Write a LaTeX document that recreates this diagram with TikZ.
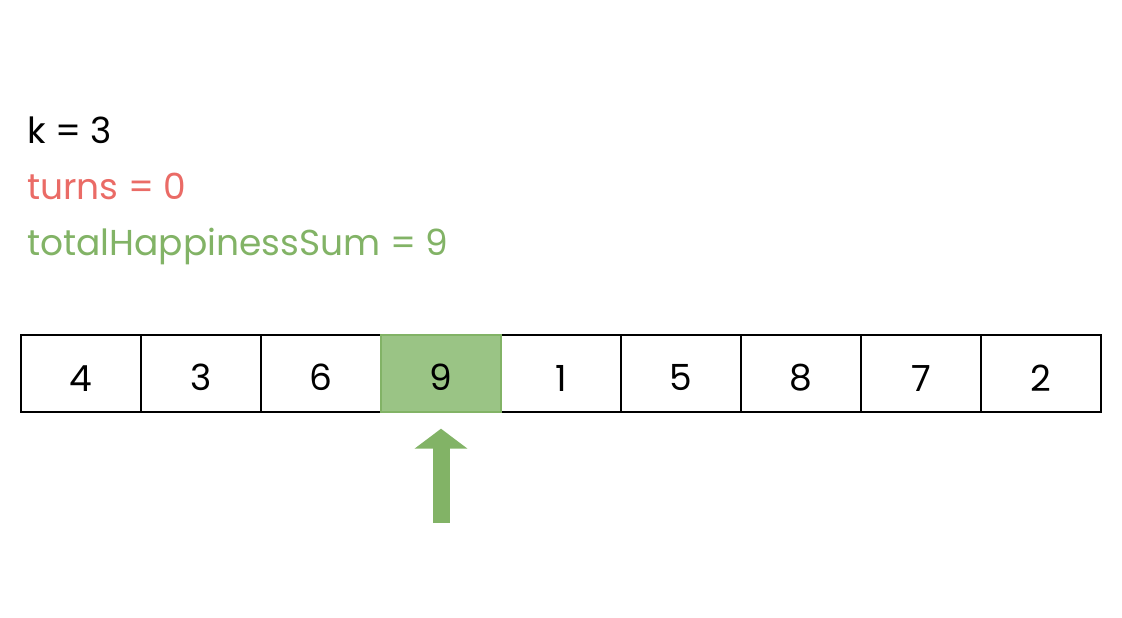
\documentclass[tikz,border=0pt]{standalone}
\usepackage{fontspec}
\setmainfont{Poppins}
\usetikzlibrary{arrows.meta}
\definecolor{redtxt}{HTML}{EA6B66}
\definecolor{greentxt}{HTML}{82B366}
\definecolor{greenfill}{HTML}{9AC485}
\begin{document}
\begin{tikzpicture}[x=1pt, y=-1pt,
	cell/.style={draw, line width=1.4pt, minimum width=120pt, minimum height=77pt, inner sep=0pt, text height=35pt, font=\fontsize{36}{42}\selectfont},
	label/.style={anchor=base west, inner sep=0pt, font=\fontsize{36}{42}\selectfont}]
	\useasboundingbox (0,0) rectangle (1122,618);
	
	\node[label] (k) at (27,143) {k = 3};
	\node[label, text=redtxt] (turns) at (27,199) {turns = 0};
	\node[label, text=greentxt] (sum) at (27,255) {totalHappinessSum = 9};
	
	\node[cell] (c1) at (81,373.5) {4};
	\node[cell] (c2) at (201,373.5) {3};
	\node[cell] (c3) at (321,373.5) {6};
	\node[cell] (c5) at (561,373.5) {1};
	\node[cell] (c6) at (681,373.5) {5};
	\node[cell] (c7) at (801,373.5) {8};
	\node[cell] (c8) at (921,373.5) {7};
	\node[cell] (c9) at (1041,373.5) {2};
	\node[cell, fill=greenfill, draw=greentxt] (c4) at (441,373.5) {9};
	
	\coordinate (foot) at (441,523);
	\draw[greentxt, line width=17pt, -{Triangle[length=20pt, width=52pt]}] (foot) -- ([yshift=-16pt]c4.south);
\end{tikzpicture}
\end{document}
